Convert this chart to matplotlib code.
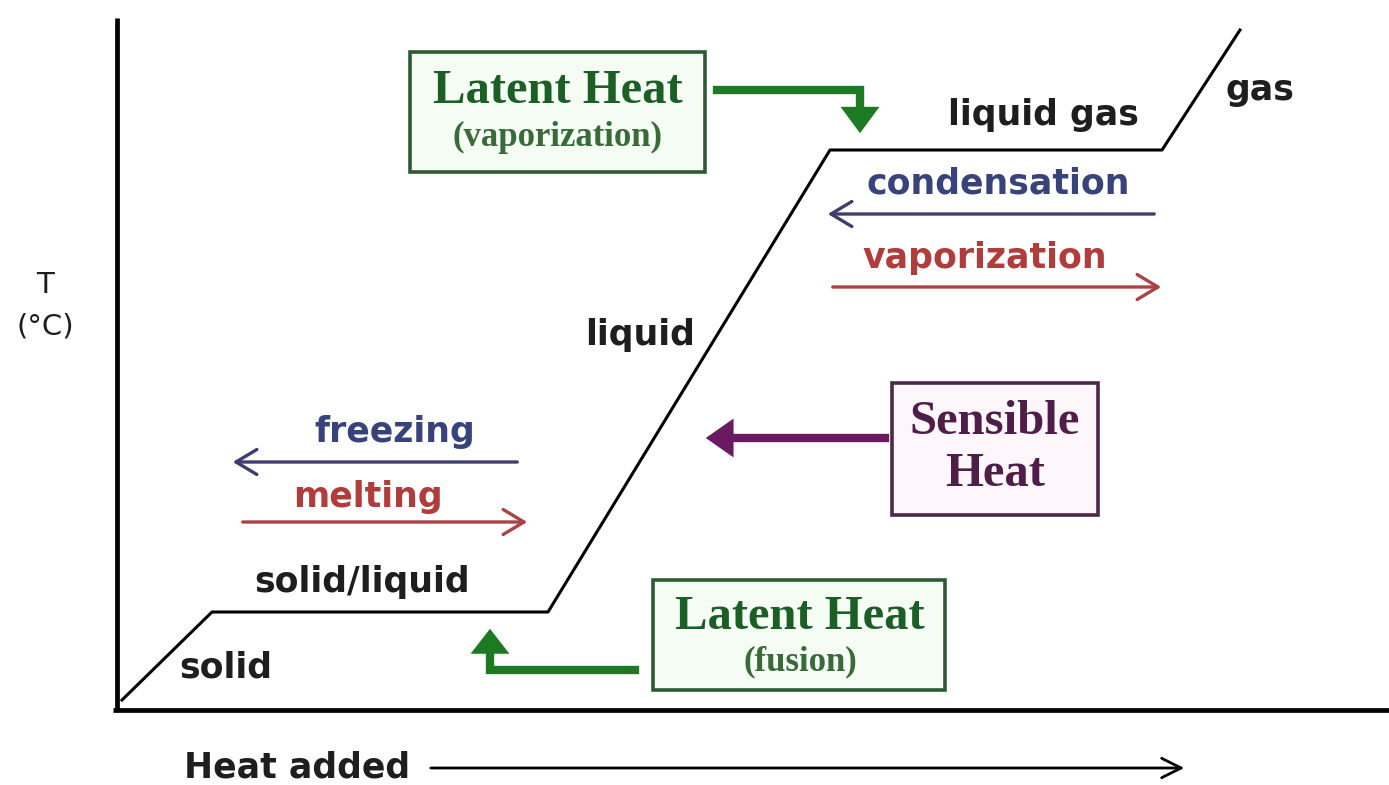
import matplotlib
matplotlib.use("Agg")
import matplotlib.pyplot as plt
from matplotlib.patches import FancyArrowPatch, Rectangle

# Heating curve data (heat added vs temperature, arbitrary units)
heat = [5, 95, 431, 713, 1045, 1123]
temp = [10, 98, 98, 560, 560, 680]

phase_labels = ["solid", "solid/liquid", "liquid", "liquid gas", "gas"]
process_labels = ["freezing", "melting", "condensation", "vaporization"]
box_labels = ["Latent Heat\n(vaporization)", "Sensible\nHeat", "Latent Heat\n(fusion)"]

W, H = 1389, 785
fig = plt.figure(figsize=(W / 100, H / 100), dpi=100)
ax = fig.add_axes([0, 0, 1, 1])
# data origin at axis corner (px 117, py 710)
ax.set_xlim(-117, W - 117)
ax.set_ylim(710 - H, 710)
ax.axis("off")

sans = "DejaVu Sans"
serif = "Liberation Serif"
FS = 25
TW = "bold"
tc = "#1e1e1e"

# axes
ax.plot([0, 0], [0, 692], color="black", lw=3.4, solid_capstyle="butt")
ax.plot([-4, W], [0, 0], color="black", lw=3.4, solid_capstyle="butt")

# heating curve
ax.plot(heat, temp, color="black", lw=2.2)

# phase labels
ax.text(109, 42, phase_labels[0], fontsize=FS, ha="center", va="center", family=sans, weight=TW, color=tc)
ax.text(245, 128, phase_labels[1], fontsize=FS, ha="center", va="center", family=sans, weight=TW, color=tc)
ax.text(523, 375, phase_labels[2], fontsize=FS, ha="center", va="center", family=sans, weight=TW, color=tc)
ax.text(926, 595, phase_labels[3], fontsize=FS, ha="center", va="center", family=sans, weight=TW, color=tc)
ax.text(1143, 620, phase_labels[4], fontsize=FS, ha="center", va="center", family=sans, weight=TW, color=tc)

# axis labels
ax.text(-72, 425, "T", fontsize=21, ha="center", va="center", family=sans, color=tc)
ax.text(-72, 384, "(°C)", fontsize=21, ha="center", va="center", family=sans, color=tc)
ax.text(180, -58, "Heat added", fontsize=FS, ha="center", va="center", family=sans, weight=TW, color=tc)
ax.add_patch(FancyArrowPatch((311, -58), (1070, -58), arrowstyle="->,head_length=14,head_width=7",
                             color="black", lw=2.0, mutation_scale=1))

blue_t, blue_a = "#38437c", "#3d3d70"
red_t, red_a = "#b03c3c", "#a84444"

# freezing / melting
ax.text(278, 278, process_labels[0], fontsize=FS, ha="center", va="center", family=sans, weight=TW, color=blue_t)
ax.add_patch(FancyArrowPatch((403, 248), (113, 248), arrowstyle="->,head_length=15,head_width=9",
                             color=blue_a, lw=2.4, mutation_scale=1))
ax.text(251, 213, process_labels[1], fontsize=FS, ha="center", va="center", family=sans, weight=TW, color=red_t)
ax.add_patch(FancyArrowPatch((123, 188), (413, 188), arrowstyle="->,head_length=15,head_width=9",
                             color=red_a, lw=2.4, mutation_scale=1))

# condensation / vaporization
ax.text(881, 527, process_labels[2], fontsize=FS, ha="center", va="center", family=sans, weight=TW, color=blue_t)
ax.add_patch(FancyArrowPatch((1040, 496), (708, 496), arrowstyle="->,head_length=15,head_width=9",
                             color=blue_a, lw=2.4, mutation_scale=1))
ax.text(868, 452, process_labels[3], fontsize=FS, ha="center", va="center", family=sans, weight=TW, color=red_t)
ax.add_patch(FancyArrowPatch((713, 423), (1047, 423), arrowstyle="->,head_length=15,head_width=9",
                             color=red_a, lw=2.4, mutation_scale=1))

green_t, green_e, green_f, green_a = "#1c5f26", "#2e5a33", "#f5fcf4", "#1e7a22"
purple_t, purple_e, purple_f, purple_a = "#4e1e48", "#4a2a48", "#fdf6fb", "#6a1a60"

def box(x0, y0, x1, y1, ec, fc):
    ax.add_patch(Rectangle((x0, y0), x1 - x0, y1 - y0, fill=True, facecolor=fc,
                           edgecolor=ec, lw=2.6, zorder=2))

BIG, SMALL = 35, 25

# Latent Heat (vaporization)
box(293, 538, 588, 658, green_e, green_f)
l1, l2 = box_labels[0].split("\n")
ax.text(441, 619, l1, fontsize=BIG, ha="center", va="center", family=serif, weight="bold", color=green_t, zorder=3)
ax.text(441, 573, l2, fontsize=SMALL, ha="center", va="center", family=serif, weight="bold", color="#3a6a3a", zorder=3)
ax.plot([600, 743, 743], [620, 620, 594], color=green_a, lw=6, solid_joinstyle="miter")
ax.add_patch(FancyArrowPatch((743, 598), (743, 574), arrowstyle="-|>,head_length=19,head_width=14",
                             color=green_a, lw=0, mutation_scale=1))

# Sensible Heat
box(775, 195, 981, 327, purple_e, purple_f)
s1, s2 = box_labels[1].split("\n")
ax.text(878, 288, s1, fontsize=BIG, ha="center", va="center", family=serif, weight="bold", color=purple_t, zorder=3)
ax.text(878, 236, s2, fontsize=BIG, ha="center", va="center", family=serif, weight="bold", color=purple_t, zorder=3)
ax.plot([768, 605], [272, 272], color=purple_a, lw=6)
ax.add_patch(FancyArrowPatch((612, 272), (586, 272), arrowstyle="-|>,head_length=20,head_width=14",
                             color=purple_a, lw=0, mutation_scale=1))

# Latent Heat (fusion)
box(536, 20, 828, 130, green_e, green_f)
f1, f2 = box_labels[2].split("\n")
ax.text(683, 93, f1, fontsize=BIG, ha="center", va="center", family=serif, weight="bold", color=green_t, zorder=3)
ax.text(683, 48, f2, fontsize=SMALL, ha="center", va="center", family=serif, weight="bold", color="#3a6a3a", zorder=3)
ax.plot([518, 373, 373], [40, 40, 66], color=green_a, lw=6, solid_joinstyle="miter")
ax.add_patch(FancyArrowPatch((373, 62), (373, 84), arrowstyle="-|>,head_length=18,head_width=14",
                             color=green_a, lw=0, mutation_scale=1))

fig.savefig("out.png", dpi=100, facecolor="white")
